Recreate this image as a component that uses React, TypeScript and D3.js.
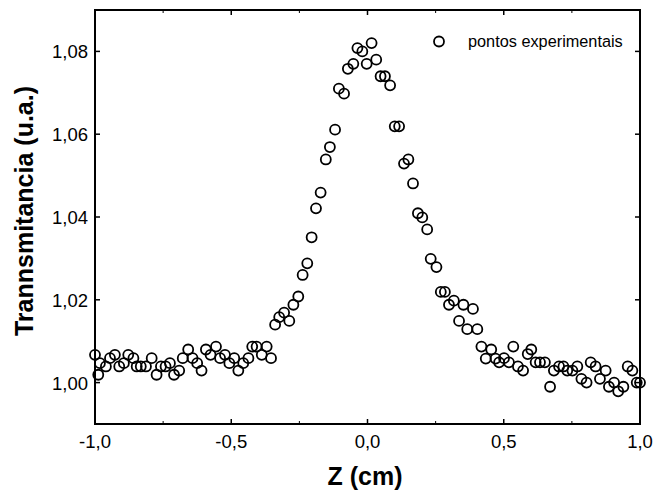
import React from "react";
import * as d3 from "d3";

const zValues: number[] = [
  -1.0, -0.988, -0.982, -0.96, -0.945, -0.927, -0.911, -0.894, -0.878, -0.859,
  -0.847, -0.832, -0.813, -0.792, -0.774, -0.758, -0.741, -0.725, -0.71, -0.691,
  -0.678, -0.658, -0.642, -0.625, -0.609, -0.593, -0.576, -0.556, -0.541, -0.523,
  -0.507, -0.489, -0.474, -0.456, -0.437, -0.423, -0.407, -0.388, -0.37, -0.354,
  -0.339, -0.324, -0.306, -0.287, -0.272, -0.254, -0.238, -0.221, -0.205, -0.189,
  -0.172, -0.153, -0.138, -0.119, -0.105, -0.086, -0.072, -0.052, -0.037, -0.019,
  -0.003, 0.015, 0.032, 0.048, 0.064, 0.083, 0.1, 0.116, 0.134, 0.15,
  0.167, 0.185, 0.201, 0.219, 0.232, 0.253, 0.269, 0.284, 0.299, 0.317,
  0.336, 0.352, 0.366, 0.387, 0.403, 0.418, 0.434, 0.454, 0.47, 0.483,
  0.501, 0.519, 0.535, 0.552, 0.571, 0.588, 0.601, 0.617, 0.633, 0.651,
  0.67, 0.684, 0.703, 0.719, 0.733, 0.752, 0.77, 0.785, 0.804, 0.819,
  0.837, 0.853, 0.874, 0.886, 0.905, 0.92, 0.939, 0.955, 0.972, 0.988, 1.0,
];

const transmittance: number[] = [
  1.0067, 1.0019, 1.0047, 1.0039, 1.0059, 1.0067, 1.0039, 1.0047, 1.0067, 1.0059,
  1.0039, 1.0039, 1.0039, 1.0059, 1.0019, 1.0039, 1.0039, 1.0047, 1.0019, 1.0029,
  1.0059, 1.008, 1.0059, 1.0047, 1.0029, 1.008, 1.0067, 1.0087, 1.0059, 1.0067,
  1.0047, 1.0059, 1.0029, 1.0047, 1.0059, 1.0087, 1.0087, 1.0067, 1.0087, 1.0059,
  1.014, 1.0158, 1.0169, 1.0149, 1.0188, 1.0208, 1.026, 1.0288, 1.0351, 1.0421,
  1.0459, 1.0539, 1.0569, 1.0611, 1.071, 1.0698, 1.0758, 1.077, 1.0808, 1.08,
  1.077, 1.082, 1.078, 1.074, 1.074, 1.0718, 1.0619, 1.0619, 1.0529, 1.0539,
  1.0481, 1.0409, 1.0399, 1.037, 1.0299, 1.0279, 1.0219, 1.0219, 1.0188, 1.0198,
  1.0149, 1.0188, 1.0129, 1.0178, 1.0129, 1.0087, 1.0058, 1.008, 1.0058, 1.0049,
  1.0059, 1.0049, 1.0087, 1.0039, 1.0029, 1.0069, 1.008, 1.0049, 1.0049, 1.0049,
  0.999, 1.0029, 1.0039, 1.0039, 1.0029, 1.0029, 1.0039, 1.0009, 1.0, 1.0049,
  1.0039, 1.0009, 1.0029, 0.999, 1.0, 0.9979, 0.999, 1.0039, 1.0029, 1.0, 1.0,
];

const xTicks: number[] = [-1.0, -0.5, 0.0, 0.5, 1.0];
const xMinorTicks: number[] = [-0.75, -0.25, 0.25, 0.75];
const yTicks: number[] = [1.0, 1.02, 1.04, 1.06, 1.08];

const xTitle = "Z (cm)";
const yTitle = "Trannsmitancia (u.a.)";
const legendLabel = "pontos experimentais";

const W = 654;
const H = 491;
const L = 95, R = 640, T = 10, B = 424;
const FONT = "Arial, 'Liberation Sans', sans-serif";

export default function App() {
  const x = d3.scaleLinear().domain([-1, 1]).range([L, R]);
  const y = d3.scaleLinear().domain([0.99, 1.09]).range([B, T]);
  const fmtX = (v: number) => d3.format(".1f")(v).replace(".", ",").replace("−", "-");
  const fmtY = (v: number) => d3.format(".2f")(v).replace(".", ",");
  const pts = zValues.map((z, i) => ({ z, t: transmittance[i] }));
  const major = 5, minor = 3;
  return (
    <svg width={W} height={H} style={{ position: "absolute", left: 0, top: 0, background: "#fff" }}>
      <rect x={0} y={0} width={W} height={H} fill="#fff" />
      {/* ticks */}
      {xTicks.map((v) => (
        <g key={"xt" + v}>
          <line x1={x(v)} x2={x(v)} y1={B} y2={B - major} stroke="#000" strokeWidth={1.5} />
          <line x1={x(v)} x2={x(v)} y1={T} y2={T + major} stroke="#000" strokeWidth={1.5} />
          <text x={x(v)} y={448} textAnchor="middle" fontFamily={FONT} fontSize={18.5} fill="#000">
            {fmtX(v)}
          </text>
        </g>
      ))}
      {xMinorTicks.map((v) => (
        <g key={"xm" + v}>
          <line x1={x(v)} x2={x(v)} y1={B} y2={B - minor} stroke="#000" strokeWidth={1} />
          <line x1={x(v)} x2={x(v)} y1={T} y2={T + minor} stroke="#000" strokeWidth={1} />
        </g>
      ))}
      {yTicks.map((v) => (
        <g key={"yt" + v}>
          <line x1={L} x2={L + major} y1={y(v)} y2={y(v)} stroke="#000" strokeWidth={1.5} />
          <line x1={R} x2={R - major} y1={y(v)} y2={y(v)} stroke="#000" strokeWidth={1.5} />
          <text x={88} y={y(v) + 7} textAnchor="end" fontFamily={FONT} fontSize={18.5} fill="#000">
            {fmtY(v)}
          </text>
        </g>
      ))}
      {/* frame */}
      <rect x={L} y={T} width={R - L} height={B - T} fill="none" stroke="#000" strokeWidth={2} />
      {/* points */}
      {pts.map((p, i) => (
        <circle key={i} cx={x(p.z)} cy={y(p.t)} r={5} fill="none" stroke="#000" strokeWidth={1.8} />
      ))}
      {/* legend */}
      <circle cx={439} cy={41.5} r={5} fill="none" stroke="#000" strokeWidth={1.8} />
      <text x={468} y={47} fontFamily={FONT} fontSize={16.3} fill="#000">
        {legendLabel}
      </text>
      {/* titles */}
      <text x={365} y={485} textAnchor="middle" fontFamily={FONT} fontSize={25} fontWeight="bold" fill="#000">
        {xTitle}
      </text>
      <text
        transform={`translate(33,211) rotate(-90)`}
        textAnchor="middle"
        fontFamily={FONT}
        fontSize={25}
        fontWeight="bold"
        fill="#000"
      >
        {yTitle}
      </text>
    </svg>
  );
}
